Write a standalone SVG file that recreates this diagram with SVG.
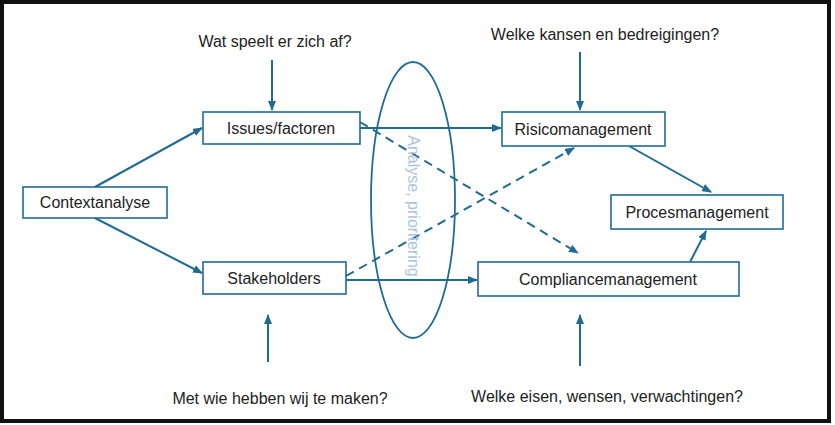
<svg xmlns="http://www.w3.org/2000/svg" width="835" height="425" viewBox="0 0 835 425">
<style>
.b{fill:#fff;stroke:#1f6b94;stroke-width:1.6}
.t{font-family:"Liberation Sans",Arial,sans-serif;font-size:16px;fill:#222;text-anchor:middle}
.l{stroke:#1f6b94;stroke-width:2;fill:none;marker-end:url(#a)}
.d{stroke-dasharray:9 6}
</style>
<defs><marker id="a" markerWidth="10" markerHeight="8" refX="9" refY="4" orient="auto" markerUnits="userSpaceOnUse"><path d="M0,0L10,4L0,8z" fill="#1f6b94"/></marker></defs>
<rect x="0" y="0" width="835" height="425" fill="#fff"/>
<rect x="2" y="2" width="827" height="419" fill="none" stroke="#111" stroke-width="4"/>
<g id="connectors">
<line class="l" x1="95" y1="187" x2="202" y2="128"/>
<line class="l" x1="95" y1="218" x2="202" y2="273"/>
<line class="l" x1="360" y1="128" x2="501" y2="128"/>
<line class="l d" x1="360" y1="122" x2="578" y2="253"/>
<line class="l d" x1="346" y1="276" x2="574" y2="148"/>
<line class="l" x1="346" y1="280" x2="477" y2="280"/>
<line class="l" x1="629" y1="146" x2="711" y2="192"/>
<line class="l" x1="690" y1="262" x2="706" y2="231"/>
<line class="l" x1="272" y1="60" x2="272" y2="110"/>
<line class="l" x1="580" y1="52" x2="580" y2="110"/>
<line class="l" x1="268" y1="362" x2="268" y2="315"/>
<line class="l" x1="580" y1="366" x2="580" y2="315"/>
</g>
<g id="ellipse"><ellipse cx="413" cy="200" rx="42" ry="138" fill="none" stroke="#1f6b94" stroke-width="1.8"/>
<text class="t" transform="translate(408,206) rotate(90)" style="fill:#a9c4dd">Analyse, prioritering</text></g>
<g id="contextanalyse"><rect class="b" x="23" y="187" width="144" height="31"/><text class="t" x="95" y="208">Contextanalyse</text></g>
<g id="issues"><rect class="b" x="203" y="112" width="157" height="32"/><text class="t" x="281" y="134">Issues/factoren</text></g>
<g id="stakeholders"><rect class="b" x="203" y="262" width="143" height="32"/><text class="t" x="274" y="284">Stakeholders</text></g>
<g id="risico"><rect class="b" x="502" y="112" width="163" height="34"/><text class="t" x="583" y="135">Risicomanagement</text></g>
<g id="proces"><rect class="b" x="611" y="195" width="172" height="34"/><text class="t" x="697" y="218">Procesmanagement</text></g>
<g id="compliance"><rect class="b" x="478" y="262" width="261" height="34"/><text class="t" x="608" y="285">Compliancemanagement</text></g>
<g id="q1"><text class="t" x="275" y="47">Wat speelt er zich af?</text></g>
<g id="q2"><text class="t" x="605" y="40">Welke kansen en bedreigingen?</text></g>
<g id="q3"><text class="t" x="280" y="404">Met wie hebben wij te maken?</text></g>
<g id="q4"><text class="t" x="607" y="402">Welke eisen, wensen, verwachtingen?</text></g>
</svg>
